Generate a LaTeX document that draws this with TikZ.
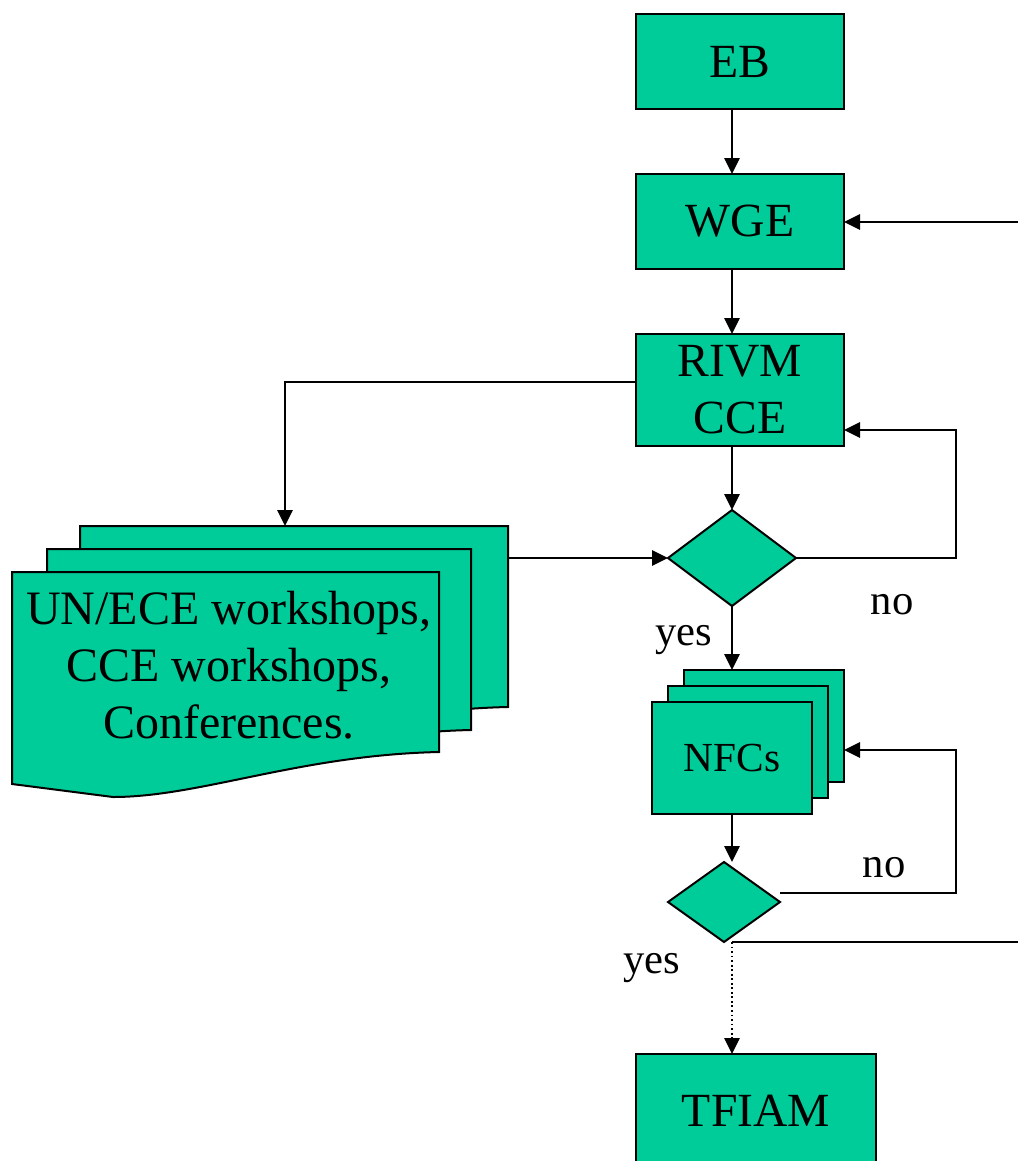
\documentclass[tikz,border=0pt]{standalone}
\usepackage{fontspec}
\setmainfont{Liberation Serif}
\usetikzlibrary{shapes.geometric,arrows.meta,calc}
\definecolor{flowgreen}{RGB}{0,204,153}
\newcommand{\bigtext}{\fontsize{35.7}{42.75}\selectfont}
\newcommand{\doctext}{\fontsize{36}{42.75}\selectfont}
\newcommand{\smalltext}{\fontsize{31}{38}\selectfont}
\newcommand{\lbltext}{\fontsize{32}{38}\selectfont}
\begin{document}
\begin{tikzpicture}[x=0.75pt,y=-0.75pt,
  box/.style={draw=black,line width=1.5pt,fill=flowgreen,inner sep=0pt,outer sep=0pt,font=\bigtext},
  dia/.style={diamond,draw=black,line width=1.5pt,fill=flowgreen,inner sep=0pt,outer sep=0pt},
  docs/.style={draw=black,line width=1.5pt,fill=flowgreen,line join=miter},
  conn/.style={draw=black,line width=1.4pt},
  arr/.style={conn,-{Triangle[length=12pt,width=11.5pt]}},
  lbl/.style={font=\lbltext,inner sep=0pt}]
\useasboundingbox (0,0) rectangle (1018,1161);
\clip (0,0) rectangle (1018,1161);

% boxes
\node[box,minimum width=156pt,minimum height=71.25pt] (EB) at (740,61.5) {EB};
\node[box,minimum width=156pt,minimum height=71.25pt] (WGE) at (740,221.5) {WGE};
\node[box,minimum width=156pt,minimum height=84pt,align=center] (RIVM) at (740,390) {RIVM\\CCE};
\node[dia,minimum width=96pt,minimum height=72pt] (D1) at (732,558) {};

% document stack
\path[docs] (80,526) -- (508,526) -- (508,707) .. controls (369,710) and (268,752) .. (181,752) -- (80,739) -- cycle;
\path[docs] (47,549) -- (471,549) -- (471,730) .. controls (332,733) and (235,775) .. (148,775) -- (47,762) -- cycle;
\path[docs] (12,572) -- (439,572) -- (439,752) .. controls (300,755) and (200,797) .. (113,797) -- (12,784) -- cycle;
\node[font=\doctext,align=center,inner sep=0pt] (DOC) at (229,665) {UN/ECE workshops,\\CCE workshops,\\Conferences.};
\coordinate (docTop) at (285,526);
\coordinate (docR) at (508,558);

% NFC stack
\node[box,minimum width=120pt,minimum height=84pt] (NFC3) at (764,726) {};
\node[box,minimum width=120pt,minimum height=84pt] (NFC2) at (748,742) {};
\node[box,minimum width=120pt,minimum height=84pt,font=\smalltext] (NFC) at (732,758) {NFCs};

\node[dia,minimum width=84pt,minimum height=60pt] (D2) at (724,902) {};
\node[box,minimum width=180pt,minimum height=85.5pt] (TFIAM) at (756,1111) {TFIAM};

% edge coordinates
\coordinate (edgeW) at (1018,222);
\coordinate (edgeB) at (1018,942);

% connectors
\draw[arr] (EB.south -| D1) -- (WGE.north -| D1);
\draw[arr] (WGE.south -| D1) -- (RIVM.north -| D1);
\draw[arr] (edgeW) -- (WGE.east |- edgeW);
\draw[arr] (RIVM.south -| D1) -- (D1.north);
\draw[arr] ($(RIVM.west)+(0,-8)$) -| (docTop);
\draw[arr] (docR) -- (D1.west);
\draw[arr] (D1.east) -- ++(160,0) |- ($(RIVM.east)+(0,40)$);
\draw[arr] (D1.south) -- (NFC3.north -| D1.south);
\draw[arr] (NFC.south) -- (D2.north -| NFC.south);
\draw[arr] ($(D2.east)+(0,-9)$) -- ++(176,0) |- ($(NFC3.east)+(0,24)$);
\draw[conn] (D2.south -| NFC) -- (edgeB);
\draw[arr,dotted,line width=1.2pt] (D2.south -| NFC) -- (TFIAM.north -| NFC);

% labels
\node[lbl,anchor=base] (no1) at (892,614) {no};
\node[lbl,anchor=base] (yes1) at (684,645) {yes};
\node[lbl,anchor=base] (no2) at (884,877) {no};
\node[lbl,anchor=base] (yes2) at (652,973) {yes};
\end{tikzpicture}
\end{document}
